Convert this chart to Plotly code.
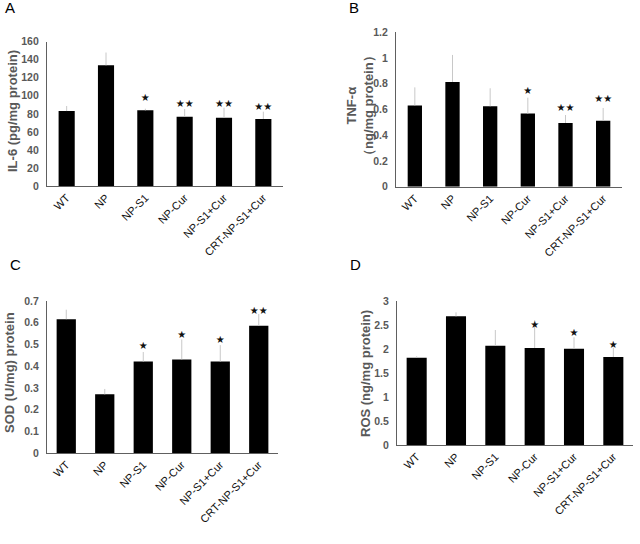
import plotly.graph_objects as go

categories = ["WT", "NP", "NP-S1", "NP-Cur", "NP-S1+Cur", "CRT-NP-S1+Cur"]

il6_mean = [83.1, 133.8, 83.9, 76.9, 75.8, 74.3]
il6_err_top = [88.7, 148.0, 85.7, 85.4, 86.8, 82.4]
il6_sig = ["", "", "★", "★★", "★★", "★★"]
il6_sig_y = [None, None, 97, 90, 90.8, 87]

tnf_mean = [0.632, 0.814, 0.625, 0.568, 0.495, 0.513]
tnf_err_top = [0.772, 1.024, 0.765, 0.692, 0.557, 0.612]
tnf_sig = ["", "", "", "★", "★★", "★★"]
tnf_sig_y = [None, None, None, 0.738, 0.609, 0.674]

sod_mean = [0.616, 0.270, 0.421, 0.431, 0.421, 0.586]
sod_err_top = [0.660, 0.295, 0.465, 0.523, 0.497, 0.640]
sod_sig = ["", "", "★", "★", "★", "★★"]
sod_sig_y = [None, None, 0.49, 0.543, 0.516, 0.653]

ros_mean = [1.819, 2.680, 2.069, 2.021, 2.007, 1.833]
ros_err_top = [1.847, 2.764, 2.396, 2.60, 2.243, 2.028]
ros_sig = ["", "", "", "★", "★", "★"]
ros_sig_y = [None, None, None, 2.5, 2.33, 2.08]

panels = [
    dict(mean=il6_mean, top=il6_err_top, sig=il6_sig, sy=il6_sig_y, rng=[0, 160], dtick=20,
         xd=[47, 283], yd=[186, 41.7], width=0.41, letter="A", lpos=(10, 8),
         title="IL-6 (pg/mg protein)", tpos=(12, 111)),
    dict(mean=tnf_mean, top=tnf_err_top, sig=tnf_sig, sy=tnf_sig_y, rng=[0, 1.2], dtick=0.2,
         xd=[396, 622], yd=[186.7, 32.3], width=0.38, letter="B", lpos=(354, 8),
         title="TNF-α<br>（ng/mg protein）", tpos=(360, 106)),
    dict(mean=sod_mean, top=sod_err_top, sig=sod_sig, sy=sod_sig_y, rng=[0, 0.7], dtick=0.1,
         xd=[47, 278], yd=[453, 301], width=0.5, letter="C", lpos=(15, 265),
         title="SOD (U/mg) protein", tpos=(9, 373)),
    dict(mean=ros_mean, top=ros_err_top, sig=ros_sig, sy=ros_sig_y, rng=[0, 3], dtick=0.5,
         xd=[397, 633], yd=[445, 301], width=0.51, letter="D", lpos=(355, 265),
         title="ROS (ng/mg protein)", tpos=(365, 374)),
]

W, H = 640, 544
FONT = "Arial, Liberation Sans, sans-serif"
GRAY = "#595959"

fig = go.Figure()
layout = dict(width=W, height=H, margin=dict(l=0, r=0, t=0, b=0),
              plot_bgcolor="white", paper_bgcolor="white", showlegend=False,
              font=dict(family=FONT), annotations=[])

for i, p in enumerate(panels):
    n = "" if i == 0 else str(i + 1)
    xa, ya = "x" + n, "y" + n
    err_plus = [t - m for t, m in zip(p["top"], p["mean"])]
    fig.add_trace(go.Bar(
        x=categories, y=p["mean"], width=p["width"], xaxis=xa, yaxis=ya,
        marker=dict(color="black", line=dict(width=0)),
        error_y=dict(type="data", symmetric=False, array=err_plus,
                     arrayminus=[0] * 6, color="#c8c8c8", thickness=1, width=0),
    ))
    fig.add_trace(go.Scatter(
        x=categories, y=p["sy"], xaxis=xa, yaxis=ya, mode="text",
        text=p["sig"], textposition="middle center", cliponaxis=False,
        textfont=dict(size=10, color="#111111", family="DejaVu Sans"),
    ))
    layout["xaxis" + n] = dict(
        domain=[p["xd"][0] / W, p["xd"][1] / W], anchor=ya, automargin=False,
        showline=True, linecolor="#606060", linewidth=1.2, ticks="",
        tickangle=-45, tickfont=dict(size=11, color="#111111", family=FONT),
        showgrid=False, fixedrange=True,
    )
    layout["yaxis" + n] = dict(
        domain=[1 - p["yd"][0] / H, 1 - p["yd"][1] / H], anchor=xa, automargin=False,
        range=p["rng"], dtick=p["dtick"], showline=True, linecolor="#606060",
        linewidth=1.2, ticks="", showgrid=False, zeroline=False,
        tickfont=dict(size=10.5, color=GRAY, family=FONT, weight="bold"),
        ticklabelstandoff=5,
    )
    layout["annotations"].append(dict(
        text=p["letter"], x=p["lpos"][0] / W, y=1 - p["lpos"][1] / H,
        xref="paper", yref="paper", showarrow=False, xanchor="center",
        yanchor="middle", font=dict(size=15, color="black", family=FONT)))
    layout["annotations"].append(dict(
        text=p["title"], x=p["tpos"][0] / W, y=1 - p["tpos"][1] / H,
        xref="paper", yref="paper", showarrow=False, textangle=-90,
        xanchor="center", yanchor="middle",
        font=dict(size=13, color=GRAY, family=FONT, weight="bold")))

fig.update_layout(**layout)
fig.write_html("out.html", config={"displayModeBar": False},
               post_script="document.body.style.margin='0';")
